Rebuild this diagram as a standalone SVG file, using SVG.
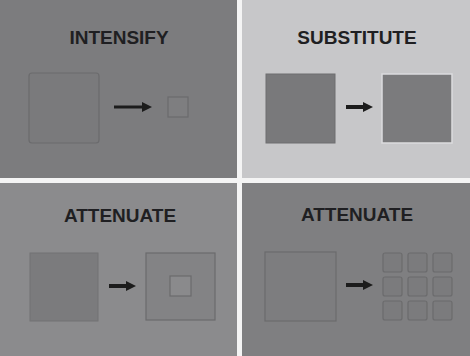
<svg xmlns="http://www.w3.org/2000/svg" width="470" height="356" viewBox="0 0 470 356">
<defs>
<style>
.title{font-family:"Liberation Sans",Arial,sans-serif;font-weight:bold;font-size:19px;fill:#1f1f22;text-anchor:middle}
.sq{stroke:#6b6b6d;stroke-width:1.2}
.arr{stroke:#1c1c1c;fill:none}
</style>
<marker id="headA" viewBox="0 0 10 10" refX="0" refY="5" markerWidth="11" markerHeight="10" markerUnits="userSpaceOnUse" orient="auto">
<path d="M0,0 L10,5 L0,10 Z" fill="#1c1c1c"/>
</marker>
<marker id="headB" viewBox="0 0 10 10" refX="0" refY="5" markerWidth="10" markerHeight="11" markerUnits="userSpaceOnUse" orient="auto">
<path d="M0,0 L10,5 L0,10 Z" fill="#1c1c1c"/>
</marker>
</defs>
<rect width="470" height="356" fill="#f4f4f4"/>
<g id="panel-intensify">
<rect x="0" y="0" width="237" height="178" fill="#7c7c7e"/>
<text class="title" x="119" y="44">INTENSIFY</text>
<g id="intensify-source"><rect class="sq" x="29" y="73" width="70" height="70" rx="3" fill="#7a7a7c"/></g>
<g id="intensify-result"><rect class="sq" x="168" y="97" width="20" height="20" fill="#7e7e80"/></g>
</g>
<g id="panel-substitute">
<rect x="242" y="0" width="228" height="178" fill="#c7c7c9"/>
<text class="title" x="357" y="44">SUBSTITUTE</text>
<g id="substitute-source"><rect x="266" y="74" width="69" height="69" fill="#79797b" stroke="#6f6f71" stroke-width="1"/></g>
<g id="substitute-result"><rect x="382" y="74" width="70" height="69" fill="#7b7b7d" stroke="#dcdcde" stroke-width="1.5"/></g>
</g>
<g id="panel-attenuate-1">
<rect x="0" y="183" width="237" height="173" fill="#8b8b8d"/>
<text class="title" x="120" y="222">ATTENUATE</text>
<g id="attenuate1-source"><rect x="30" y="253" width="68" height="68" fill="#7b7b7d" stroke="#737375" stroke-width="1"/></g>
<g id="attenuate1-result"><rect class="sq" x="146" y="253" width="69" height="67" fill="#838385"/><rect class="sq" x="170" y="276" width="21" height="20" fill="#8a8a8c"/></g>
</g>
<g id="panel-attenuate-2">
<rect x="242" y="183" width="228" height="173" fill="#7f7f81"/>
<text class="title" x="357" y="221">ATTENUATE</text>
<g id="attenuate2-source"><rect class="sq" x="265" y="252" width="71" height="69" fill="#7d7d7f"/></g>
<g id="attenuate2-result">
<rect class="sq" x="383" y="253" width="19" height="19" rx="2" fill="#7b7b7d"/>
<rect class="sq" x="408" y="253" width="19" height="19" rx="2" fill="#7b7b7d"/>
<rect class="sq" x="433" y="253" width="19" height="19" rx="2" fill="#7b7b7d"/>
<rect class="sq" x="383" y="277" width="19" height="19" rx="2" fill="#7b7b7d"/>
<rect class="sq" x="408" y="277" width="19" height="19" rx="2" fill="#7b7b7d"/>
<rect class="sq" x="433" y="277" width="19" height="19" rx="2" fill="#7b7b7d"/>
<rect class="sq" x="383" y="301" width="19" height="19" rx="2" fill="#7b7b7d"/>
<rect class="sq" x="408" y="301" width="19" height="19" rx="2" fill="#7b7b7d"/>
<rect class="sq" x="433" y="301" width="19" height="19" rx="2" fill="#7b7b7d"/>
</g>
</g>
<g id="connectors">
<line class="arr" x1="114" y1="107" x2="142" y2="107" stroke-width="3" marker-end="url(#headA)"/>
<line class="arr" x1="346" y1="107" x2="363" y2="107" stroke-width="4" marker-end="url(#headB)"/>
<line class="arr" x1="109" y1="286" x2="126" y2="286" stroke-width="4" marker-end="url(#headB)"/>
<line class="arr" x1="346" y1="285" x2="363" y2="285" stroke-width="4" marker-end="url(#headB)"/>
</g>
</svg>
